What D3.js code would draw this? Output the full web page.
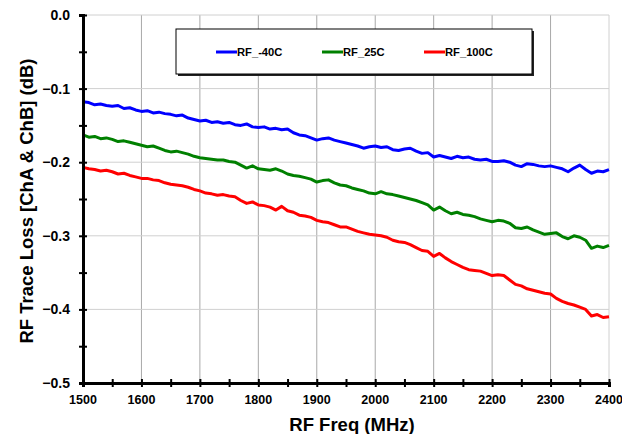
<!DOCTYPE html>
<html>
<head>
<meta charset="utf-8">
<script src="https://cdn.jsdelivr.net/npm/d3@7"></script>
<style>
  body { margin: 0; background: #fff; }
  text { font-family: "Liberation Sans", Arial, sans-serif; font-weight: bold; }
</style>
</head>
<body>
<div id="chart"></div>
<script>
// sample grid (MHz) and readings per temperature (dB)
const freqs = d3.range(1500, 2401, 10);

const rfMinus40 = [
  -0.118, -0.119, -0.122, -0.121, -0.123, -0.124, -0.123, -0.127, -0.126, -0.129,
  -0.131, -0.130, -0.133, -0.132, -0.134, -0.135, -0.137, -0.136, -0.140, -0.142,
  -0.144, -0.143, -0.146, -0.145, -0.147, -0.146, -0.149, -0.150, -0.148, -0.152,
  -0.153, -0.152, -0.155, -0.154, -0.156, -0.155, -0.160, -0.163, -0.164, -0.167,
  -0.170, -0.168, -0.167, -0.170, -0.172, -0.174, -0.176, -0.178, -0.181, -0.179,
  -0.178, -0.180, -0.179, -0.183, -0.184, -0.182, -0.181, -0.185, -0.188, -0.187,
  -0.193, -0.191, -0.193, -0.195, -0.192, -0.194, -0.193, -0.196, -0.197, -0.196,
  -0.199, -0.199, -0.198, -0.200, -0.204, -0.206, -0.202, -0.203, -0.205, -0.206,
  -0.205, -0.207, -0.209, -0.213, -0.208, -0.204, -0.210, -0.215, -0.212, -0.213,
  -0.210
];

const rf25 = [
  -0.163, -0.166, -0.165, -0.168, -0.167, -0.169, -0.172, -0.171, -0.173, -0.175,
  -0.177, -0.179, -0.178, -0.181, -0.184, -0.186, -0.185, -0.187, -0.189, -0.192,
  -0.194, -0.195, -0.196, -0.197, -0.197, -0.199, -0.200, -0.204, -0.208, -0.205,
  -0.209, -0.210, -0.211, -0.209, -0.212, -0.216, -0.218, -0.219, -0.221, -0.223,
  -0.227, -0.225, -0.224, -0.228, -0.231, -0.232, -0.235, -0.237, -0.239, -0.242,
  -0.243, -0.240, -0.243, -0.244, -0.246, -0.248, -0.250, -0.252, -0.255, -0.258,
  -0.265, -0.261, -0.266, -0.270, -0.268, -0.271, -0.272, -0.274, -0.277, -0.279,
  -0.281, -0.279, -0.280, -0.283, -0.289, -0.290, -0.288, -0.292, -0.295, -0.298,
  -0.297, -0.296, -0.301, -0.304, -0.300, -0.302, -0.306, -0.317, -0.314, -0.316,
  -0.313
];

const rf100 = [
  -0.207, -0.209, -0.210, -0.212, -0.211, -0.213, -0.216, -0.215, -0.218, -0.220,
  -0.222, -0.222, -0.224, -0.225, -0.228, -0.230, -0.231, -0.232, -0.234, -0.237,
  -0.239, -0.242, -0.243, -0.245, -0.244, -0.246, -0.247, -0.252, -0.256, -0.254,
  -0.258, -0.259, -0.261, -0.265, -0.260, -0.266, -0.268, -0.272, -0.273, -0.275,
  -0.279, -0.281, -0.282, -0.285, -0.288, -0.288, -0.291, -0.294, -0.296, -0.298,
  -0.299, -0.300, -0.302, -0.306, -0.308, -0.309, -0.312, -0.316, -0.320, -0.321,
  -0.328, -0.324, -0.330, -0.335, -0.339, -0.343, -0.346, -0.347, -0.348, -0.351,
  -0.354, -0.353, -0.354, -0.360, -0.366, -0.368, -0.372, -0.374, -0.376, -0.378,
  -0.379, -0.385, -0.389, -0.392, -0.394, -0.397, -0.400, -0.409, -0.407, -0.411,
  -0.410
];

const seriesNames = ["RF_-40C", "RF_25C", "RF_100C"];
const seriesColors = ["#0000ff", "#008000", "#ff0000"];
const xTicks = [1500, 1600, 1700, 1800, 1900, 2000, 2100, 2200, 2300, 2400];
const yTicks = [0, -0.1, -0.2, -0.3, -0.4, -0.5];

const width = 622, height = 434;
const margin = { top: 15, right: 13, bottom: 51, left: 83 };
const w = width - margin.left - margin.right,
  h = height - margin.top - margin.bottom;

const svg = d3.select("#chart").append("svg")
  .attr("width", width).attr("height", height);

const g = svg.append("g").attr("transform", `translate(${margin.left},${margin.top})`);

const x = d3.scaleLinear().domain([1500, 2400]).range([0, w]);
const y = d3.scaleLinear().domain([-0.5, 0]).range([h, 0]);

// grid
g.append("g").selectAll("line").data(xTicks.slice(1)).join("line")
  .attr("x1", d => x(d)).attr("x2", d => x(d))
  .attr("y1", 0).attr("y2", h)
  .attr("stroke", d => d === 2400 ? "#d0d0d0" : "#a8a8a8").attr("stroke-width", 1);
g.append("g").selectAll("line").data(yTicks.slice(0, -1)).join("line")
  .attr("x1", 0).attr("x2", w)
  .attr("y1", d => y(d)).attr("y2", d => y(d))
  .attr("stroke", "#d0d0d0").attr("stroke-width", 1);

// series
const line = d3.line().x((d, i) => x(freqs[i])).y(d => y(d));
[rfMinus40, rf25, rf100].forEach((vals, k) => {
  g.append("path").datum(vals)
    .attr("fill", "none")
    .attr("stroke", seriesColors[k])
    .attr("stroke-width", 3)
    .attr("stroke-linejoin", "round")
    .attr("d", line);
});

// axes
const xAxis = g.append("g").attr("transform", `translate(0,${h})`)
  .call(d3.axisBottom(x).tickValues(d3.range(1500, 2401, 50)).tickSize(4).tickFormat(""));
const yAxis = g.append("g")
  .call(d3.axisLeft(y).tickValues(d3.range(-0.5, 0.001, 0.05)).tickSize(4).tickFormat(""));
[xAxis, yAxis].forEach(a => {
  a.select(".domain").attr("stroke", "#000").attr("stroke-width", 3);
  a.selectAll(".tick line").attr("stroke", "#000").attr("stroke-width", 2);
});
xAxis.selectAll(".tick line").attr("y1", -4);
yAxis.selectAll(".tick line").attr("x1", 4);

g.append("g").selectAll("text").data(xTicks).join("text")
  .attr("x", d => x(d)).attr("y", h + 21)
  .attr("text-anchor", "middle").attr("font-size", 12.5)
  .text(d => d);
g.append("g").selectAll("text").data(yTicks).join("text")
  .attr("x", -13).attr("y", d => y(d) + 5)
  .attr("text-anchor", "end").attr("font-size", 14)
  .text(d => d3.format(".1f")(d));

// titles
svg.append("text")
  .attr("x", 352).attr("y", 430.5)
  .attr("text-anchor", "middle").attr("font-size", 18.5)
  .text("RF Freq (MHz)");
svg.append("text")
  .attr("transform", `translate(33,201) rotate(-90)`)
  .attr("text-anchor", "middle").attr("font-size", 18.5)
  .text("RF Trace Loss [ChA & ChB] (dB)");

// legend
const legend = svg.append("g").attr("transform", "translate(176,29)");
legend.append("rect").attr("x", 2).attr("y", 2).attr("width", 356).attr("height", 45).attr("fill", "#222");
legend.append("rect").attr("width", 356).attr("height", 45)
  .attr("fill", "#fff").attr("stroke", "#000").attr("stroke-width", 1);
const legendX = [40, 146, 248];
seriesNames.forEach((name, k) => {
  legend.append("line")
    .attr("x1", legendX[k]).attr("x2", legendX[k] + 21)
    .attr("y1", 23).attr("y2", 23)
    .attr("stroke", seriesColors[k]).attr("stroke-width", 3);
  legend.append("text")
    .attr("x", legendX[k] + 21).attr("y", 27)
    .attr("font-size", 11.2)
    .text(name);
});
</script>
</body>
</html>
